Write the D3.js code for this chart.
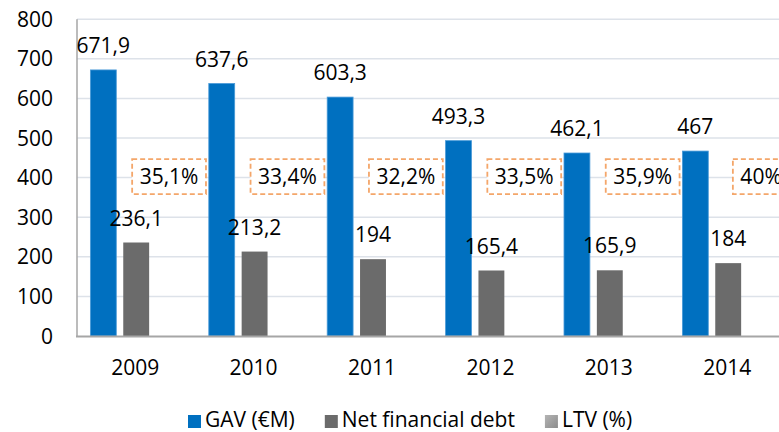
<!DOCTYPE html>
<html>
<head>
<meta charset="utf-8">
<script src="https://cdn.jsdelivr.net/npm/d3@7"></script>
<style>
  body { margin: 0; background: #fff; }
  svg text { font-family: "Open Sans", sans-serif; fill: #000; }
</style>
</head>
<body>
<div class="chart"></div>
<script>
// chart data
var years = ["2009", "2010", "2011", "2012", "2013", "2014"];
var gav = [671.9, 637.6, 603.3, 493.3, 462.1, 467];
var netDebt = [236.1, 213.2, 194, 165.4, 165.9, 184];
var ltv = [35.1, 33.4, 32.2, 33.5, 35.9, 40];
var yTicks = [0, 100, 200, 300, 400, 500, 600, 700, 800];
var seriesNames = ["GAV (€M)", "Net financial debt", "LTV (%)"];

var width = 779,
    height = 432,
    left = 77,
    bandW = 118.4,
    fontSize = 21;

function fmt(v) {
    return String(v).replace(".", ",");
}

var svg = d3.select(".chart").append("svg")
    .attr("width", width)
    .attr("height", height);

var x = d3.scaleBand()
    .domain(years)
    .range([left, left + bandW * years.length])
    .paddingInner(0.2262)
    .paddingOuter(0.1131);

// three bars per year: GAV, net debt, LTV (ltv bar is invisible, only its label shows)
var x1 = d3.scaleBand()
    .domain([0, 1, 2])
    .range([0, x.bandwidth()])
    .paddingInner(0.212);

var y = d3.scaleLinear()
    .domain([0, 800])
    .range([336, 19.2]);

// gridlines
svg.append("g").selectAll("line").data(yTicks.slice(1)).enter().append("line")
    .attr("x1", left).attr("x2", width)
    .attr("y1", function (d) { return y(d); })
    .attr("y2", function (d) { return y(d); })
    .attr("stroke", "#dde2e9")
    .attr("stroke-width", 1.5);

// y tick labels
svg.append("g").selectAll("text").data(yTicks).enter().append("text")
    .attr("x", 53)
    .attr("y", function (d) { return y(d); })
    .attr("dy", "0.36em")
    .attr("text-anchor", "end")
    .style("font-size", fontSize + "px")
    .text(function (d) { return d; });

// bars
svg.append("g").selectAll("rect").data(gav).enter().append("rect")
    .attr("x", function (d, i) { return x(years[i]) + x1(0); })
    .attr("width", x1.bandwidth())
    .attr("y", function (d) { return y(d); })
    .attr("height", function (d) { return y(0) - y(d); })
    .attr("fill", "#0070c0")
    .attr("stroke", "#4a9ad8")
    .attr("stroke-width", 0.8);

svg.append("g").selectAll("rect").data(netDebt).enter().append("rect")
    .attr("x", function (d, i) { return x(years[i]) + x1(1); })
    .attr("width", x1.bandwidth())
    .attr("y", function (d) { return y(d); })
    .attr("height", function (d) { return y(0) - y(d); })
    .attr("fill", "#6b6b6b");

// axes lines
svg.append("line")
    .attr("x1", left).attr("x2", left)
    .attr("y1", y(800)).attr("y2", y(0))
    .attr("stroke", "#a6a6a6").attr("stroke-width", 1.5);
svg.append("line")
    .attr("x1", left - 1).attr("x2", width)
    .attr("y1", y(0) + 0.5).attr("y2", y(0) + 0.5)
    .attr("stroke", "#a6a6a6").attr("stroke-width", 2);

// x labels
svg.append("g").selectAll("text").data(years).enter().append("text")
    .attr("x", function (d) { return x(d) + x.bandwidth() / 2 - 1; })
    .attr("y", 375)
    .attr("text-anchor", "middle")
    .style("font-size", fontSize + "px")
    .text(function (d) { return d; });

// value labels
svg.append("g").selectAll("text").data(gav).enter().append("text")
    .attr("x", function (d, i) { return x(years[i]) + x1(0) + x1.bandwidth() / 2; })
    .attr("y", function (d) { return y(d) - 17; })
    .attr("text-anchor", "middle")
    .style("font-size", fontSize + "px")
    .text(fmt);

svg.append("g").selectAll("text").data(netDebt).enter().append("text")
    .attr("x", function (d, i) { return x(years[i]) + x1(1) + x1.bandwidth() / 2; })
    .attr("y", function (d) { return y(d) - 17; })
    .attr("text-anchor", "middle")
    .style("font-size", fontSize + "px")
    .text(fmt);

// LTV labels in dashed boxes
var ltvG = svg.append("g").selectAll("g").data(ltv).enter().append("g")
    .attr("transform", function (d, i) {
        return "translate(" + (x(years[i]) + x1(2) + x1.bandwidth() / 2) + "," + (y(400) - 1) + ")";
    });
var ltvText = ltvG.append("text")
    .attr("text-anchor", "middle")
    .attr("dy", "0.36em")
    .style("font-size", fontSize + "px")
    .text(function (d) { return fmt(d) + "%"; });
ltvG.insert("rect", "text")
    .each(function (d, i) {
        var w = ltvText.nodes()[i].getComputedTextLength() + 15;
        d3.select(this)
            .attr("x", -w / 2).attr("y", -17.5)
            .attr("width", w).attr("height", 35);
    })
    .attr("fill", "#fff")
    .attr("stroke", "#f4a66a")
    .attr("stroke-width", 1.8)
    .attr("stroke-dasharray", "5,3");

// legend
var grad = svg.append("defs").append("linearGradient")
    .attr("id", "ltvGrad").attr("x1", "0").attr("y1", "0").attr("x2", "1").attr("y2", "1");
grad.append("stop").attr("offset", "0").attr("stop-color", "#b4b4b4");
grad.append("stop").attr("offset", "1").attr("stop-color", "#8c8c8c");

var swatchFill = ["#0070c0", "#6b6b6b", "url(#ltvGrad)"];
var lx = 188;
seriesNames.forEach(function (name, i) {
    svg.append("rect")
        .attr("x", lx).attr("y", 415)
        .attr("width", 13).attr("height", 13)
        .attr("fill", swatchFill[i]);
    var t = svg.append("text")
        .attr("x", lx + 17).attr("y", 427)
        .style("font-size", fontSize + "px")
        .text(name);
    lx += 17 + t.node().getComputedTextLength() + 30;
});
</script>
</body>
</html>
